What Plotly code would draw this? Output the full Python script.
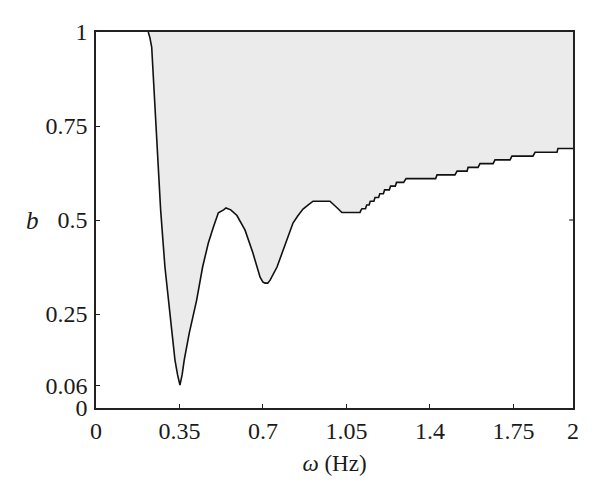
import plotly.graph_objects as go

# Boundary curve b(omega)
omega = [0.219, 0.226, 0.2335, 0.252, 0.271, 0.289, 0.317, 0.331, 0.342, 0.352,
         0.361, 0.370, 0.391, 0.422, 0.447, 0.471, 0.492, 0.513, 0.535, 0.545, 0.553,
         0.565, 0.591, 0.625, 0.658, 0.688, 0.700, 0.709, 0.720, 0.730, 0.759, 0.784, 0.813,
         0.826, 0.845, 0.868, 0.890, 0.910, 0.981, 1.000, 1.015, 1.031, 1.107,
         1.110, 1.115, 1.130, 1.135, 1.145, 1.150, 1.165, 1.170, 1.185, 1.190, 1.205, 1.210,
         1.230, 1.235, 1.255, 1.260, 1.290, 1.300,
         1.424, 1.430, 1.505, 1.514, 1.556, 1.560, 1.602, 1.610, 1.665, 1.673, 1.736, 1.744,
         1.832, 1.841, 1.933, 1.937, 2.000]
b = [1.000, 0.985, 0.960, 0.745, 0.527, 0.375, 0.199, 0.128, 0.088, 0.061,
     0.088, 0.128, 0.199, 0.287, 0.375, 0.439, 0.481, 0.519, 0.527, 0.532, 0.530,
     0.527, 0.512, 0.473, 0.412, 0.348, 0.335, 0.332, 0.332, 0.340, 0.375, 0.420, 0.473,
     0.492, 0.510, 0.529, 0.540, 0.550, 0.550, 0.540, 0.530, 0.520, 0.520,
     0.525, 0.530, 0.530, 0.540, 0.540, 0.550, 0.550, 0.560, 0.560, 0.570, 0.570, 0.580,
     0.580, 0.590, 0.590, 0.600, 0.600, 0.610,
     0.610, 0.620, 0.620, 0.630, 0.630, 0.640, 0.640, 0.650, 0.650, 0.660, 0.660, 0.670,
     0.670, 0.680, 0.680, 0.690, 0.690]

x_ticks = [0, 0.35, 0.7, 1.05, 1.4, 1.75, 2]
x_labels = ["0", "0.35", "0.7", "1.05", "1.4", "1.75", "2"]
y_ticks = [0, 0.06, 0.25, 0.5, 0.75, 1]
y_labels = ["0", "0.06", "0.25", "0.5", "0.75", "1"]

FONT = "Liberation Serif"
AX = "#222222"

fig = go.Figure()
# shaded region between the curve and b = 1
fig.add_trace(go.Scatter(
    x=omega + [omega[-1], omega[0]],
    y=b + [1, 1],
    fill="toself", fillcolor="#ebebeb", mode="none", hoverinfo="skip",
    showlegend=False))
fig.add_trace(go.Scatter(
    x=omega, y=b, mode="lines", line=dict(color="#111111", width=1.6),
    showlegend=False))

fig.update_layout(
    width=592, height=490,
    margin=dict(l=88, r=27, t=24, b=90),
    plot_bgcolor="white", paper_bgcolor="white",
    font=dict(family=FONT, size=24, color="#1a1a1a"),
    xaxis=dict(range=[0, 2], tickvals=x_ticks, ticktext=x_labels,
               ticks="inside", ticklen=4, tickwidth=1.2, tickcolor=AX,
               showline=True, linecolor=AX, linewidth=1.5, mirror=True,
               showgrid=False, zeroline=False,
               title=dict(text="<i>ω</i> (Hz)", standoff=12, font=dict(size=23))),
    yaxis=dict(range=[0, 1], tickvals=y_ticks, ticktext=y_labels,
               ticks="inside", ticklen=4, tickwidth=1.2, tickcolor=AX,
               showline=True, linecolor=AX, linewidth=1.5, mirror=True,
               showgrid=False, zeroline=False, ticklabelstandoff=2),
    annotations=[dict(text="<i>b</i>", xref="paper", yref="y", x=-0.133, y=0.5,
                      xanchor="center", showarrow=False, font=dict(family=FONT, size=25))],
    shapes=[dict(type="line", xref="paper", yref="y", x0=0.992, x1=1.0, y0=0.5, y1=0.5,
                 line=dict(color=AX, width=1.2))],
)

fig.write_html("out.html")
